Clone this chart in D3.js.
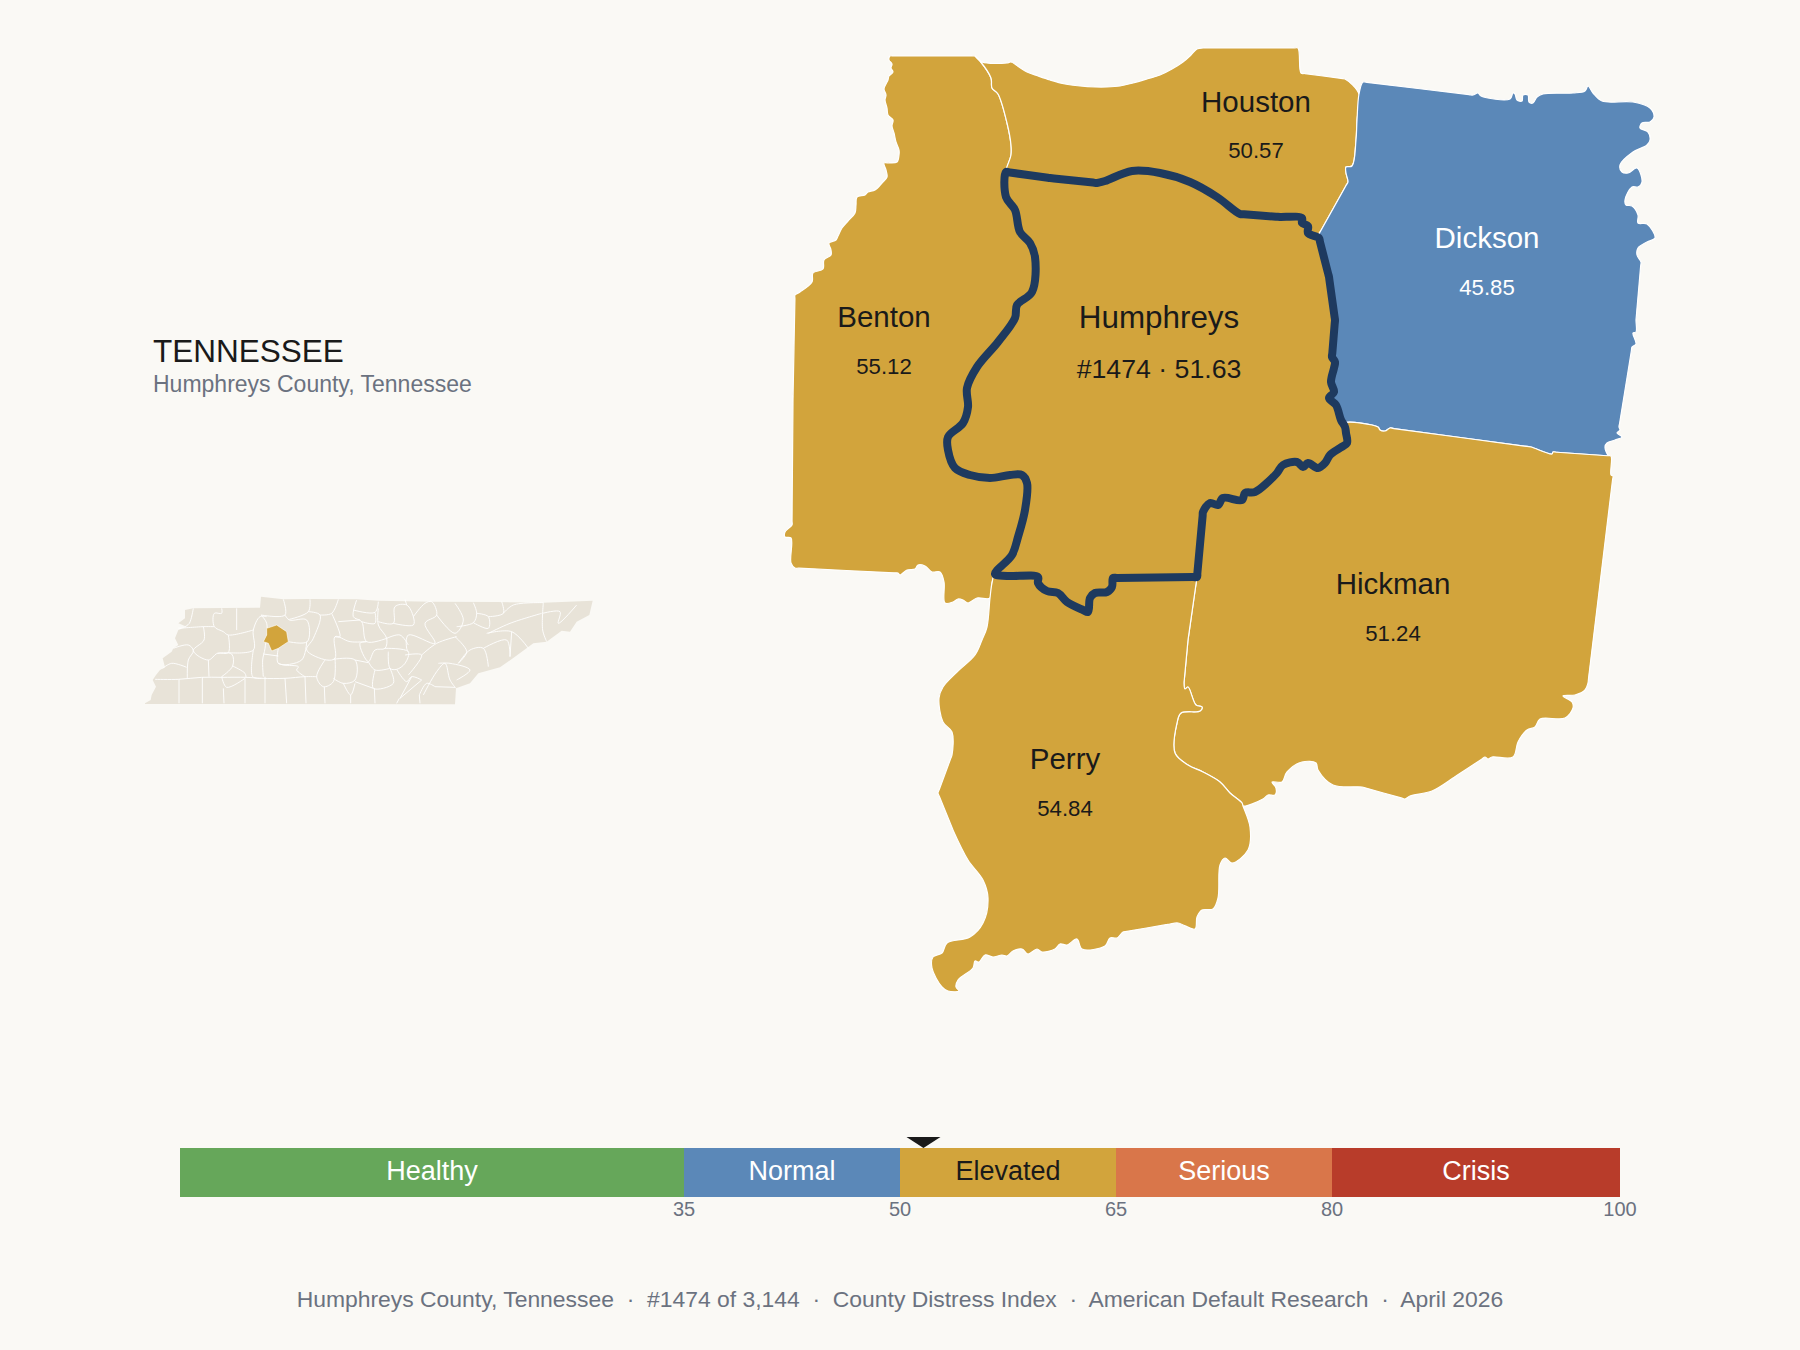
<!DOCTYPE html>
<html>
<head>
<meta charset="utf-8">
<title>Humphreys County, Tennessee</title>
<script src="https://cdn.jsdelivr.net/npm/d3@7"></script>
<style>
html, body { margin: 0; padding: 0; background: #FAF9F5; }
svg { display: block; }
text { font-family: "Liberation Sans", Arial, sans-serif; }
</style>
</head>
<body>
<script>
// county scores
const countyNames = ['Benton', 'Houston', 'Dickson', 'Hickman', 'Perry', 'Humphreys'];
const countyScores = [55.12, 50.57, 45.85, 51.24, 54.84, 51.63];
const focusCounty = 'Humphreys';
const focusRank = 1474;
const countyTotal = '3,144';

// index bands
const bandNames = ['Healthy', 'Normal', 'Elevated', 'Serious', 'Crisis'];
const bandBreaks = [0, 35, 50, 65, 80, 100];
const bandTicks = [35, 50, 65, 80, 100];
const bandColors = ['#66A75A', '#5B88B8', '#D2A43C', '#D9764A', '#B83C2A'];

// traced borders, shared between counties so the edges line up
const humN = [[1006,172],[1050,178],[1097,183],[1105,181],[1132,171],[1160,173],[1190,182],[1217,197],[1240,214],[1280,217],[1302,218],[1302,223],[1308,226],[1308,233],[1319,238]];
const humE = [[1319,238],[1329,277],[1335,320],[1332,357],[1335,362],[1334,368],[1331,382],[1334,392],[1329,398],[1336,405],[1341,420],[1345,427]];
const humSE = [[1345,427],[1346,433],[1347,443],[1340,448],[1330,455],[1325,463],[1318,468],[1308,463],[1303,467],[1297,462],[1283,465],[1277,473],[1268,482],[1255,492],[1245,493],[1242,500],[1223,498],[1218,505],[1210,503],[1203,512],[1197,577]];
const humS = [[1197,577],[1113,578],[1112,587],[1107,592],[1095,593],[1090,598],[1088,612],[1083,610],[1067,602],[1058,593],[1047,591],[1038,583],[1038,577],[1007,576],[995,574]];
const humW = [[995,574],[1012,555],[1018,537],[1025,510],[1027,483],[1022,475],[1010,475],[990,478],[970,475],[955,468],[948,450],[948,437],[963,423],[968,407],[967,388],[977,367],[998,342],[1015,318],[1017,305],[1032,292],[1035,257],[1030,243],[1020,232],[1015,210],[1006,197],[1006,172]];
const bentonHouston = [[975,56],[980,61],[991,78],[992,88],[998,94],[1007,123],[1011,145],[1011,155],[1006,172]];
const bentonOuter = [[975,56],[890,56],[889,60],[892,64],[891,68],[893,72],[889,76],[888,80],[886,84],[884,89],[886,95],[885,100],[887,108],[888,115],[893,120],[892,126],[894,133],[896,142],[899,150],[899,155],[897,162],[890,163],[884,163],[886,170],[887,177],[882,183],[875,190],[868,192],[865,195],[857,197],[856,205],[855,213],[848,221],[842,228],[838,236],[836,240],[829,243],[831,250],[831,255],[824,260],[823,269],[813,273],[812,282],[800,292],[795,295],[793,400],[792,525],[785,532],[785,537],[791,538],[791,563],[795,568],[898,573],[900,575],[907,570],[915,569],[918,565],[925,566],[932,572],[940,572],[944,582],[945,603],[953,602],[958,599],[963,600],[968,603],[977,598],[990,598]];
const bentonPerry = [[990,598],[992,583],[995,574]];
const houstonOuter = [[975,56],[982,62],[1007,63],[1011,62],[1019,67],[1027,72],[1038,76],[1050,80],[1065,84],[1080,86],[1095,87],[1107,87],[1120,86],[1133,83],[1147,79],[1160,75],[1172,69],[1183,62],[1191,55],[1197,49],[1203,48],[1298,48],[1301,73],[1345,79],[1359,94]];
const houstonDickson = [[1359,94],[1357,120],[1356,140],[1352,166],[1346,167],[1346,173],[1348,182],[1319,234]];
const dicksonOuter = [[1363,82],[1473,95],[1478,93],[1481,96],[1510,99],[1513,93],[1515,94],[1517,100],[1522,101],[1523,95],[1528,95],[1529,102],[1533,103],[1537,97],[1543,94],[1573,93],[1585,91],[1588,86],[1593,93],[1602,101],[1633,102],[1650,108],[1654,117],[1650,122],[1642,123],[1640,128],[1648,132],[1650,140],[1647,145],[1633,152],[1620,165],[1622,172],[1628,173],[1637,168],[1642,182],[1638,187],[1632,187],[1625,200],[1626,205],[1632,206],[1638,215],[1638,223],[1647,224],[1655,238],[1647,242],[1638,248],[1637,255],[1641,262],[1636,320],[1636,332],[1633,333],[1636,344],[1632,347],[1619,427],[1620,430],[1617,433],[1622,437],[1615,440],[1607,443],[1605,447],[1608,455],[1611,456]];
const dicksonHickman = [[1611,456],[1553,452],[1552,454],[1531,447],[1390,428],[1385,431],[1380,430],[1378,427],[1345,423]];
const hickmanOuter = [[1611,456],[1611,475],[1613,476],[1588,683],[1585,690],[1575,695],[1563,696],[1572,702],[1573,708],[1565,718],[1540,719],[1535,727],[1527,730],[1518,742],[1513,757],[1492,757],[1488,759],[1485,757],[1453,778],[1432,791],[1410,796],[1405,799],[1362,787],[1333,785],[1318,770],[1316,763],[1302,762],[1287,772],[1282,782],[1272,782],[1276,788],[1275,795],[1268,795],[1263,799],[1243,806]];
const hickmanPerry = [[1243,806],[1242,803],[1230,793],[1220,782],[1203,772],[1188,765],[1175,753],[1177,723],[1181,713],[1200,711],[1202,707],[1196,705],[1188,687],[1185,689],[1184,683],[1188,640],[1197,577]];
const perryOuter = [[990,598],[987,627],[982,640],[975,655],[957,672],[943,687],[939,698],[943,722],[952,732],[952,755],[938,793],[953,830],[968,860],[983,880],[988,898],[983,923],[970,937],[947,943],[942,953],[933,957],[932,968],[942,987],[948,991],[959,991],[956,987],[958,980],[973,968],[975,961],[979,962],[985,955],[993,957],[1002,955],[1007,956],[1013,951],[1022,949],[1028,954],[1037,949],[1042,952],[1055,949],[1060,944],[1067,945],[1077,939],[1082,949],[1105,946],[1110,938],[1117,938],[1123,932],[1170,924],[1178,923],[1195,929],[1197,917],[1202,910],[1213,909],[1218,898],[1220,865],[1225,858],[1232,863],[1248,850],[1250,827],[1243,806]];

const rev = a => a.slice().reverse();
const countyShapes = {
    Benton: [bentonOuter, bentonPerry, humW, rev(bentonHouston)],
    Houston: [houstonOuter, houstonDickson, rev(humN), rev(bentonHouston)],
    Dickson: [dicksonOuter, dicksonHickman, rev(humE), rev(houstonDickson)],
    Hickman: [rev(dicksonHickman), hickmanOuter, hickmanPerry, rev(humSE)],
    Perry: [perryOuter, hickmanPerry, humS, rev(bentonPerry)],
    Humphreys: [humN, humE, humSE, humS, humW]
};

// locator map of the state, in traced units
const stateOutline = [[45,370],[62,360],[65,345],[78,320],[68,300],[78,285],[90,270],[105,262],[98,235],[125,215],[130,205],[145,195],[135,175],[145,150],[170,140],[145,130],[165,115],[165,90],[190,85],[390,83],[393,50],[460,58],[540,57],[680,58],[745,62],[905,65],[1100,66],[1240,68],[1388,62],[1378,105],[1340,125],[1320,155],[1295,152],[1250,185],[1210,190],[1155,230],[1110,262],[1045,280],[1020,310],[978,325],[975,373],[45,372]];
const stateFocus = [[410,145],[440,135],[470,155],[475,185],[445,205],[425,213],[415,190],[400,185],[410,165]];
const stateLines = [
    [[275,85],[275,100],[253,100],[253,140],[280,155],[295,165],[370,150]],
    [[320,85],[320,150]],
    [[190,85],[178,130],[165,140]],
    [[145,145],[220,140],[253,140]],
    [[220,140],[222,180],[190,212],[235,240],[262,220],[295,218],[295,165]],
    [[295,218],[370,210],[370,150],[390,110],[410,110]],
    [[130,205],[175,195],[190,212],[175,240],[172,295]],
    [[98,265],[125,250],[170,262]],
    [[235,240],[237,290]],
    [[262,220],[305,222],[308,258],[275,290]],
    [[308,258],[345,280],[348,292]],
    [[370,210],[368,290],[395,295]],
    [[75,298],[145,298],[215,292],[275,292],[348,292],[395,295],[465,295],[525,290],[560,290]],
    [[147,298],[147,370]], [[217,292],[217,370]], [[280,325],[282,370]], [[345,295],[345,370]],
    [[405,290],[405,370]], [[465,295],[470,370]], [[525,290],[528,370]], [[583,320],[585,370]],
    [[662,345],[662,370]], [[733,325],[735,370]], [[808,355],[800,370]], [[868,345],[870,370]],
    [[275,290],[290,322],[345,295]],
    [[393,105],[410,130],[405,205],[398,240],[400,290]],
    [[393,105],[465,105],[460,58]],
    [[465,105],[478,120],[530,120],[532,185],[475,185]],
    [[445,205],[445,250],[515,240],[530,185]],
    [[400,222],[445,228]],
    [[445,250],[460,255],[505,260],[500,270],[525,290]],
    [[540,58],[535,95],[478,118]],
    [[535,95],[570,105],[550,175],[530,210],[590,240],[615,235],[615,170],[660,185],[710,185]],
    [[625,58],[605,100],[570,105]],
    [[605,100],[630,170],[615,170]],
    [[680,60],[670,110],[695,125],[710,185],[770,175]],
    [[625,125],[690,120]],
    [[670,90],[735,97],[745,65]],
    [[735,97],[735,130],[695,125]],
    [[745,125],[790,130],[795,80],[830,75],[850,110],[850,135],[790,130]],
    [[830,75],[825,58]],
    [[850,110],[885,70],[905,65],[920,105],[885,130],[915,190],[835,165],[830,205],[835,215]],
    [[745,85],[745,135],[770,175],[765,205],[735,210],[715,245],[690,190],[710,185]],
    [[770,175],[810,165],[835,195]],
    [[765,205],[835,215],[825,250],[800,268],[780,265],[775,215]],
    [[715,245],[735,270],[780,265]],
    [[735,270],[730,325],[790,310],[780,265]],
    [[615,235],[610,305],[580,320],[560,290],[585,240]],
    [[610,238],[675,240],[675,300],[640,310],[610,295]],
    [[675,240],[715,248]],
    [[675,305],[730,325]], [[640,310],[662,345],[675,310]],
    [[800,268],[830,305],[845,290],[875,300]], [[845,290],[810,355]],
    [[825,225],[875,225],[835,285]], [[875,225],[920,190],[980,170]],
    [[920,105],[975,160],[1000,120],[975,70]],
    [[980,140],[1030,128],[1040,100],[1030,68]],
    [[1040,100],[1075,110],[1075,145],[1030,128]],
    [[1075,110],[1120,100],[1115,65]], [[1120,100],[1150,75],[1240,68]],
    [[1240,68],[1238,150],[1250,185]], [[1238,100],[1290,95],[1285,130],[1340,75]],
    [[1075,160],[1140,130],[1235,100]],
    [[1070,160],[1145,155],[1195,205]], [[1145,155],[1140,230]],
    [[975,170],[1010,215],[985,250],[1020,210],[1060,205],[1075,260]],
    [[1060,205],[1130,180],[1140,230]],
    [[925,250],[960,250],[1020,270],[980,300]],
    [[880,345],[920,275],[945,250],[960,300],[978,325]], [[915,320],[975,322]],
    [[868,345],[890,310],[915,320]],
    [[810,355],[875,300]]
];

const ink = '#1A1A1A', grey = '#6B7280', navy = '#1E3A5F', paper = '#FAF9F5', land = '#E8E3D8';
const width = 1800, height = 1350;

const svg = d3.select('body').append('svg')
    .attr('width', width)
    .attr('height', height)
    .style('background-color', paper);

// main map
const mapX = d3.scaleLinear().domain([780, 1660]).range([780, 1660]);
const mapY = d3.scaleLinear().domain([40, 1000]).range([40, 1000]);
const mapLine = d3.line().x(d => mapX(d[0])).y(d => mapY(d[1])).curve(d3.curveCatmullRomClosed.alpha(0.5));

const bandScale = d3.scaleThreshold().domain(bandBreaks.slice(1, 5)).range(bandColors);
const scoreOf = name => countyScores[countyNames.indexOf(name)];

// arcs meet end to end, drop the repeated joints
const ringOf = name => countyShapes[name].flat().filter((p, i, a) => {
    const q = a[(i + 1) % a.length];
    return p[0] !== q[0] || p[1] !== q[1];
});
// curve overshoots on long straight edges, pin it near both ends of those
const pinLong = ring => ring.flatMap((p, i) => {
    const q = ring[(i + 1) % ring.length];
    const len = Math.hypot(q[0] - p[0], q[1] - p[1]);
    if (len < 36) return [p];
    const t = 4 / len;
    return [p, [p[0] + (q[0] - p[0]) * t, p[1] + (q[1] - p[1]) * t], [q[0] - (q[0] - p[0]) * t, q[1] - (q[1] - p[1]) * t]];
});
const countyPath = name => mapLine(pinLong(ringOf(name)));

svg.append('g').selectAll('path')
    .data(countyNames.filter(d => d !== focusCounty))
    .enter()
    .append('path')
    .attr('d', countyPath)
    .attr('fill', d => bandScale(scoreOf(d)))
    .attr('stroke', '#fff')
    .attr('stroke-width', 1.2)
    .attr('stroke-linejoin', 'round');

svg.append('path')
    .attr('d', countyPath(focusCounty))
    .attr('fill', bandScale(scoreOf(focusCounty)))
    .attr('stroke', navy)
    .attr('stroke-width', 8)
    .attr('stroke-linejoin', 'round');

// county labels, anchor = [centre x, name baseline, value baseline]
const labelAnchors = { Benton: [884, 327, 374], Houston: [1256, 112, 158], Dickson: [1487, 248, 295], Hickman: [1393, 594, 641], Perry: [1065, 769, 816], Humphreys: [1159, 328, 378] };
const labelColor = name => bandScale(scoreOf(name)) === bandColors[1] ? '#fff' : ink;

const labels = svg.append('g').attr('text-anchor', 'middle').selectAll('g')
    .data(countyNames)
    .enter()
    .append('g');
labels.append('text')
    .attr('x', d => labelAnchors[d][0])
    .attr('y', d => labelAnchors[d][1])
    .attr('font-size', d => d === focusCounty ? 31.4 : 29.5)
    .attr('fill', labelColor)
    .text(d => d);
labels.append('text')
    .attr('x', d => labelAnchors[d][0])
    .attr('y', d => labelAnchors[d][2])
    .attr('font-size', d => d === focusCounty ? 26.7 : 22.2)
    .attr('fill', labelColor)
    .text(d => d === focusCounty ? `#${focusRank} · ${scoreOf(d)}` : scoreOf(d));

// heading
svg.append('text').attr('x', 153).attr('y', 362).attr('font-size', 31.5).attr('fill', ink).text('TENNESSEE');
svg.append('text').attr('x', 153).attr('y', 392).attr('font-size', 23).attr('fill', grey).text('Humphreys County, Tennessee');

// locator
const insetX = d3.scaleLinear().domain([0, 1410]).range([130, 600]);
const insetY = d3.scaleLinear().domain([0, 390]).range([580, 710]);
const insetLine = d3.line().x(d => insetX(d[0])).y(d => insetY(d[1]));
const insetCurve = d3.line().x(d => insetX(d[0])).y(d => insetY(d[1])).curve(d3.curveCatmullRom.alpha(0.5));

svg.append('path').attr('d', insetLine(stateOutline) + 'Z').attr('fill', land);
svg.append('g').selectAll('path')
    .data(stateLines)
    .enter()
    .append('path')
    .attr('d', insetCurve)
    .attr('fill', 'none')
    .attr('stroke', '#fff')
    .attr('stroke-width', 0.9)
    .attr('stroke-linejoin', 'round');
svg.append('path')
    .attr('d', insetLine(stateFocus) + 'Z')
    .attr('fill', bandScale(scoreOf(focusCounty)))
    .attr('stroke', '#fff')
    .attr('stroke-width', 0.6);

// index ramp
const rampX = d3.scaleLinear().domain([0, 100]).range([180, 1620]);
const rampTop = 1148, rampH = 49;

const segs = svg.append('g').selectAll('g')
    .data(bandNames)
    .enter()
    .append('g');
segs.append('rect')
    .attr('x', (d, i) => rampX(bandBreaks[i]))
    .attr('y', rampTop)
    .attr('width', (d, i) => rampX(bandBreaks[i + 1]) - rampX(bandBreaks[i]))
    .attr('height', rampH)
    .attr('fill', (d, i) => bandColors[i]);
segs.append('text')
    .attr('x', (d, i) => (rampX(bandBreaks[i]) + rampX(bandBreaks[i + 1])) / 2)
    .attr('y', 1180)
    .attr('text-anchor', 'middle')
    .attr('font-size', 27)
    .attr('fill', (d, i) => i === 2 ? ink : '#fff')
    .text(d => d);

const rampAxis = d3.axisBottom(rampX).tickValues(bandTicks).tickSize(0).tickPadding(5).offset(0);
const axisG = svg.append('g')
    .attr('transform', `translate(0,${rampTop + rampH})`)
    .call(rampAxis);
axisG.select('.domain').remove();
axisG.selectAll('text').attr('font-size', 20).attr('fill', grey).style('font-family', '"Liberation Sans", Arial, sans-serif');

// marker for the focus county
const mx = rampX(scoreOf(focusCounty));
svg.append('path')
    .attr('d', d3.line()([[mx - 17, rampTop - 11], [mx + 17, rampTop - 11], [mx, rampTop]]) + 'Z')
    .attr('fill', ink);

// footer
svg.append('text')
    .attr('x', 900)
    .attr('y', 1307)
    .attr('text-anchor', 'middle')
    .attr('font-size', 22.9)
    .attr('fill', grey)
    .style('white-space', 'pre')
    .text(`Humphreys County, Tennessee  ·  #${focusRank} of ${countyTotal}  ·  County Distress Index  ·  American Default Research  ·  April 2026`);
</script>
</body>
</html>
